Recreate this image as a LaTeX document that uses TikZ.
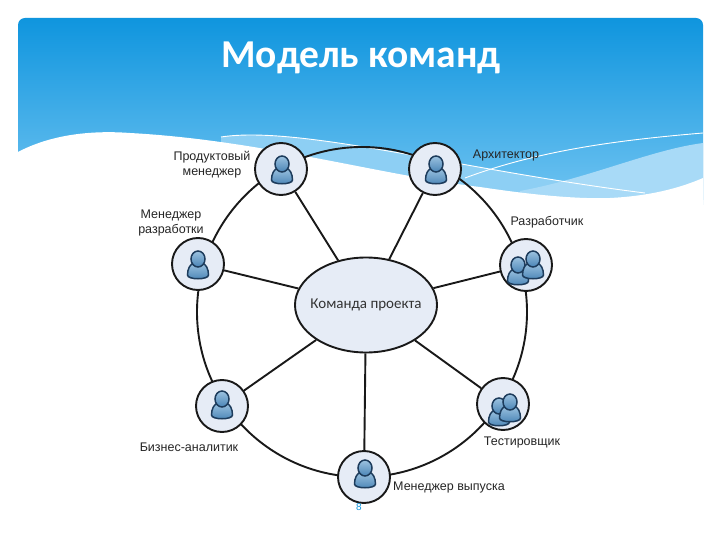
\documentclass[tikz,border=0pt]{standalone}
\usepackage{fontspec}
\setmainfont{Liberation Sans}
\newfontfamily\titlefont{Carlito}
\newfontfamily\centerfont{Carlito}
\usetikzlibrary{shapes.geometric, positioning}
\definecolor{skytop}{HTML}{0F95DE}
\definecolor{skylow}{HTML}{6FC3F1}
\definecolor{wavepale}{HTML}{A8DAF7}
\definecolor{wavemid}{HTML}{8DCFF4}
\definecolor{nodefill}{HTML}{E6ECF6}
\definecolor{iconedge}{HTML}{1D3C5C}
\definecolor{iconlight}{HTML}{9CC3E0}
\definecolor{icondark}{HTML}{4A84B6}
\tikzset{
  role/.style={circle, draw=black!90, line width=1.9pt, fill=nodefill, minimum size=52pt, inner sep=0pt},
  team/.style={ellipse, draw=black!90, line width=1.9pt, fill=nodefill, minimum width=142pt, minimum height=95pt, inner xsep=-6pt, inner ysep=0pt, font=\centerfont\fontsize{15}{15}\selectfont, text=black!80},
  ring/.style={circle, draw=black!90, line width=1.9pt, minimum size=330pt, inner sep=0pt},
  spoke/.style={draw=black!90, line width=1.9pt},
  rolelabel/.style={align=center, font=\fontsize{12.5}{15}\selectfont, text=black!85, inner sep=0pt},
  swoosh/.style={draw=white, line width=0.9pt}
}
% one person: head and shoulders, placed at #1
\newcommand{\personicon}[1]{
  \begin{scope}[shift={(#1)}]
    \draw[iconedge, line width=1.5pt, top color=iconlight, bottom color=icondark]
      (-10.5,9) .. controls (-10.5,3) and (-8,-2) .. (-4,-3) -- (4,-3)
      .. controls (8,-2) and (10.5,3) .. (10.5,9)
      .. controls (10.5,14) and (-10.5,14) .. (-10.5,9) -- cycle;
    \draw[iconedge, line width=1.5pt, top color=iconlight, bottom color=icondark]
      (0,-7) ellipse (7 and 8);
  \end{scope}
}
\begin{document}
\begin{tikzpicture}[x=1pt, y=-1pt]
  \useasboundingbox (0,0) rectangle (720,540);
  \fill[white] (0,0) rectangle (720,540);
  % header band
  \begin{scope}
    \clip[rounded corners=7pt] (18,18) rectangle (703,300);
    \shade[top color=skytop, bottom color=skylow] (18,18) rectangle (703,200);
    \fill[wavemid] (221,137) .. controls (300,125) and (460,170) .. (645,193) -- (645,205) -- (221,205) -- cycle;
    \fill[wavepale] (520,191) .. controls (590,178) and (650,150) .. (703,143) -- (703,205) -- (520,205) -- cycle;
    \fill[white] (18,152) .. controls (50,135) and (90,130) .. (130,133)
      .. controls (260,140) and (380,175) .. (480,187)
      .. controls (540,196) and (580,199) .. (610,198)
      .. controls (650,196) and (680,188) .. (703,178) -- (703,300) -- (18,300) -- cycle;
    \draw[swoosh] (221,137) .. controls (300,125) and (460,170) .. (645,193);
    \draw[swoosh] (465,178) .. controls (540,150) and (620,140) .. (703,133);
  \end{scope}
  \node[font=\titlefont\fontsize{39.5}{39.5}\selectfont\bfseries, text=white] (title) at (361,58) {Модель команд};

  % ring and hub
  \node[ring] (rim) at (362,312) {};
  \node[team] (hub) at (366,305) {Команда проекта};

  % roles around the ring
  \node[role] (prod) at (281,169) {};
  \node[role] (arch) at (435,169) {};
  \node[role] (dev) at (526,265) {};
  \node[role] (test) at (503,404) {};
  \node[role] (rel) at (364,477) {};
  \node[role] (biz) at (222,406) {};
  \node[role] (mgr) at (198,264) {};

  \foreach \r in {prod,arch,dev,test,rel,biz,mgr}
    \path[spoke] (hub) -- (\r);

  \personicon{282,171}
  \personicon{436,171}
  \personicon{198,266}
  \personicon{222,406}
  \personicon{365,475}
  \personicon{518,272}
  \personicon{533,266}
  \personicon{499,413}
  \personicon{510,409}

  \node[rolelabel] (prodtext) at (212,165) {Продуктовый\\менеджер};
  \node[rolelabel] (archtext) at (506,155) {Архитектор};
  \node[rolelabel] (devtext) at (547,222) {Разработчик};
  \node[rolelabel] (testtext) at (522,442) {Тестировщик};
  \node[rolelabel] (reltext) at (449,487) {Менеджер выпуска};
  \node[rolelabel] (biztext) at (189,447) {Бизнес-аналитик};
  \node[rolelabel] (mgrtext) at (171,223) {Менеджер\\разработки};
  \node[font=\fontsize{10}{10}\selectfont, text=skytop] (pageno) at (359,507) {8};
\end{tikzpicture}
\end{document}
